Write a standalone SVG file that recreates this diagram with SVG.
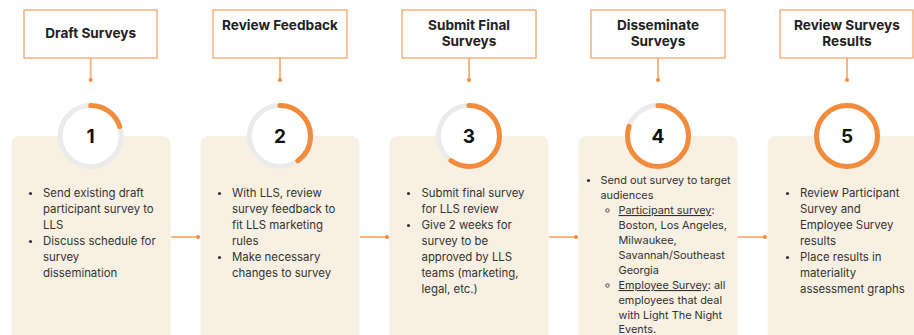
<svg xmlns="http://www.w3.org/2000/svg" width="914" height="335" viewBox="0 0 914 335">
<style>
.tbox{fill:#fff;stroke:#F5A46C;stroke-width:1.3}
.title{font-family:Inter,"Noto Sans",sans-serif;font-weight:700;font-size:13.6px;fill:#222;text-anchor:middle}
.card{fill:#F8F0E2}
.ring{fill:#fff;stroke:#EBEBEB;stroke-width:5}
.prog{fill:none;stroke:#F28C3C;stroke-width:5;stroke-linecap:round}
.num{font-family:Inter,"Noto Sans",sans-serif;font-weight:700;font-size:19px;fill:#111;text-anchor:middle}
.body{font-family:Inter,"Noto Sans",sans-serif;font-size:11.4px;fill:#333}
.small{font-family:Inter,"Noto Sans",sans-serif;font-size:10.9px;fill:#333}
.line{stroke:#F8B684;stroke-width:2;fill:none}
.dot{fill:#F28C3C}
.u{text-decoration:underline}
</style>
<g id="connectors">
<line class="line" x1="90.7" y1="58" x2="90.7" y2="79"/><circle class="dot" cx="90.7" cy="80" r="2"/>
<line class="line" x1="280" y1="58" x2="280" y2="79"/><circle class="dot" cx="280" cy="80" r="2"/>
<line class="line" x1="469" y1="58" x2="469" y2="79"/><circle class="dot" cx="469" cy="80" r="2"/>
<line class="line" x1="658" y1="58" x2="658" y2="79"/><circle class="dot" cx="658" cy="80" r="2"/>
<line class="line" x1="847" y1="58" x2="847" y2="79"/><circle class="dot" cx="847" cy="80" r="2"/>
<line class="line" x1="171" y1="237" x2="197" y2="237"/><circle class="dot" cx="198" cy="237" r="2"/>
<line class="line" x1="360" y1="237" x2="386" y2="237"/><circle class="dot" cx="387" cy="237" r="2"/>
<line class="line" x1="549" y1="237" x2="575" y2="237"/><circle class="dot" cx="576" cy="237" r="2"/>
<line class="line" x1="738" y1="237" x2="764" y2="237"/><circle class="dot" cx="765" cy="237" r="2"/>
</g>
<g id="step1">
<rect class="tbox" x="24" y="10" width="133" height="48"/>
<text class="title" x="90.7" y="38">Draft Surveys</text>
<rect class="card" x="11.5" y="136" width="159" height="210" rx="8"/>
<circle class="ring" cx="90.7" cy="136" r="30.5"/>
<circle class="prog" cx="90.7" cy="136" r="30.5" stroke-dasharray="38.3 200" transform="rotate(-90 90.7 136)"/>
<text class="num" x="90.7" y="143">1</text>
<g class="body">
<circle cx="30.5" cy="193.5" r="1.6" fill="#333"/><circle cx="30.5" cy="241.5" r="1.6" fill="#333"/>
<text x="43" y="197">Send existing draft</text>
<text x="43" y="213">participant survey to</text>
<text x="43" y="229">LLS</text>
<text x="43" y="245">Discuss schedule for</text>
<text x="43" y="261">survey</text>
<text x="43" y="277">dissemination</text>
</g>
</g>
<g id="step2">
<rect class="tbox" x="213" y="10" width="134" height="48"/>
<text class="title" x="280" y="30">Review Feedback</text>
<rect class="card" x="200.5" y="136" width="159" height="210" rx="8"/>
<circle class="ring" cx="280" cy="136" r="30.5"/>
<circle class="prog" cx="280" cy="136" r="30.5" stroke-dasharray="76.6 200" transform="rotate(-90 280 136)"/>
<text class="num" x="280" y="143">2</text>
<g class="body">
<circle cx="219.5" cy="193.5" r="1.6" fill="#333"/><circle cx="219.5" cy="257.5" r="1.6" fill="#333"/>
<text x="232" y="197">With LLS, review</text>
<text x="232" y="213">survey feedback to</text>
<text x="232" y="229">fit LLS marketing</text>
<text x="232" y="245">rules</text>
<text x="232" y="261">Make necessary</text>
<text x="232" y="277">changes to survey</text>
</g>
</g>
<g id="step3">
<rect class="tbox" x="402" y="10" width="134" height="48"/>
<text class="title" x="469" y="30">Submit Final</text>
<text class="title" x="469" y="46">Surveys</text>
<rect class="card" x="389.5" y="136" width="159" height="210" rx="8"/>
<circle class="ring" cx="469" cy="136" r="30.5"/>
<circle class="prog" cx="469" cy="136" r="30.5" stroke-dasharray="115 200" transform="rotate(-90 469 136)"/>
<text class="num" x="469" y="143">3</text>
<g class="body">
<circle cx="408.5" cy="193.5" r="1.6" fill="#333"/><circle cx="408.5" cy="225.5" r="1.6" fill="#333"/>
<text x="421.5" y="197">Submit final survey</text>
<text x="421.5" y="213">for LLS review</text>
<text x="421.5" y="229">Give 2 weeks for</text>
<text x="421.5" y="245">survey to be</text>
<text x="421.5" y="261">approved by LLS</text>
<text x="421.5" y="277">teams (marketing,</text>
<text x="421.5" y="293">legal, etc.)</text>
</g>
</g>
<g id="step4">
<rect class="tbox" x="591" y="10" width="134" height="48"/>
<text class="title" x="658" y="30">Disseminate</text>
<text class="title" x="658" y="46">Surveys</text>
<rect class="card" x="578.5" y="136" width="159" height="210" rx="8"/>
<circle class="ring" cx="658" cy="136" r="30.5"/>
<circle class="prog" cx="658" cy="136" r="30.5" stroke-dasharray="153.3 200" transform="rotate(-90 658 136)"/>
<text class="num" x="658" y="143">4</text>
<g class="small">
<circle cx="588.5" cy="180.5" r="1.6" fill="#333"/>
<circle cx="607.5" cy="210.5" r="1.7" fill="none" stroke="#333" stroke-width="0.9"/>
<circle cx="607.5" cy="285.5" r="1.7" fill="none" stroke="#333" stroke-width="0.9"/>
<text x="600.5" y="184">Send out survey to target</text>
<text x="600.5" y="199">audiences</text>
<text x="618.5" y="214"><tspan class="u">Participant survey</tspan>:</text>
<text x="618.5" y="229">Boston, Los Angeles,</text>
<text x="618.5" y="244">Milwaukee,</text>
<text x="618.5" y="259">Savannah/Southeast</text>
<text x="618.5" y="274">Georgia</text>
<text x="618.5" y="289"><tspan class="u">Employee Survey</tspan>: all</text>
<text x="618.5" y="304">employees that deal</text>
<text x="618.5" y="319">with Light The Night</text>
<text x="618.5" y="333">Events.</text>
</g>
</g>
<g id="step5">
<rect class="tbox" x="780" y="10" width="133" height="48"/>
<text class="title" x="847" y="30">Review Surveys</text>
<text class="title" x="847" y="46">Results</text>
<rect class="card" x="767.5" y="136" width="159" height="210" rx="8"/>
<circle class="ring" cx="847" cy="136" r="30.5"/>
<circle class="prog" cx="847" cy="136" r="30.5"/>
<text class="num" x="847" y="143">5</text>
<g class="body">
<circle cx="787.5" cy="193.5" r="1.6" fill="#333"/><circle cx="787.5" cy="257.5" r="1.6" fill="#333"/>
<text x="800" y="197">Review Participant</text>
<text x="800" y="213">Survey and</text>
<text x="800" y="229">Employee Survey</text>
<text x="800" y="245">results</text>
<text x="800" y="261">Place results in</text>
<text x="800" y="277">materiality</text>
<text x="800" y="293">assessment graphs</text>
</g>
</g>
</svg>
